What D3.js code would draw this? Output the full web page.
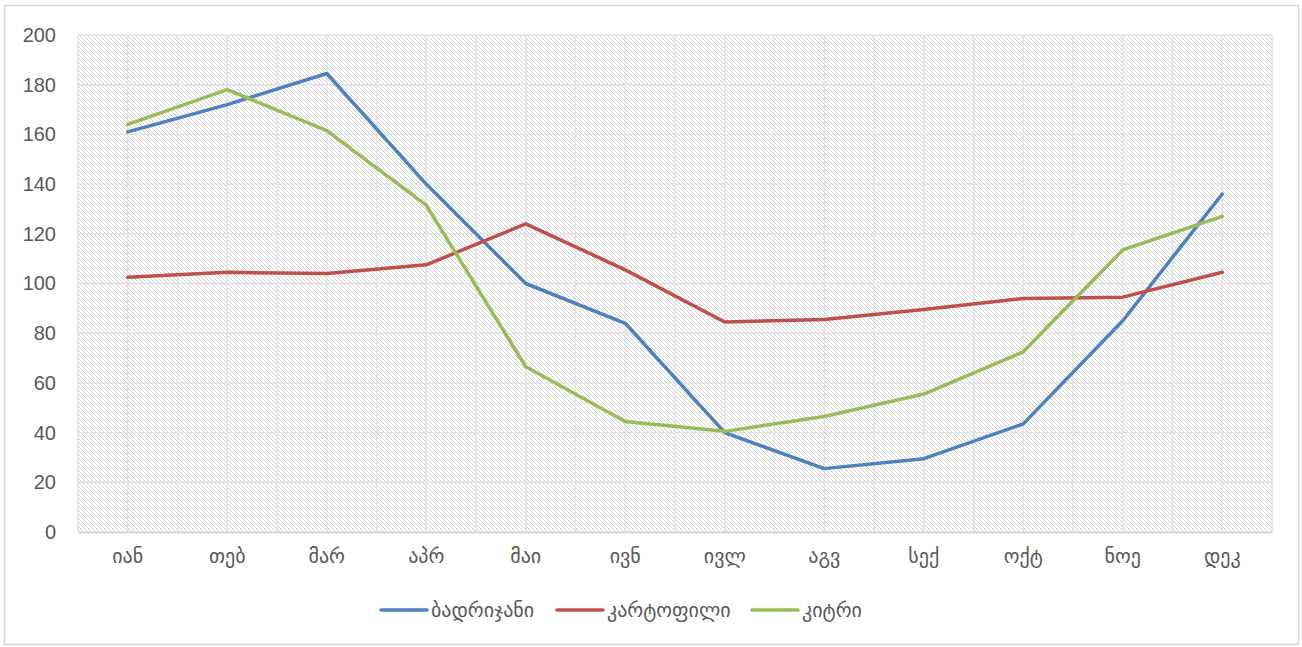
<!DOCTYPE html>
<html lang="ka">
<head>
  <meta charset="UTF-8">
  <title>ბოსტნეული</title>
  <script src="https://d3js.org/d3.v7.min.js"></script>
  <style>
    body { margin: 0; background: #fff; }
    svg { display: block; }
    text { fill: #595959; }
  </style>
</head>
<body>
<svg id="chart" width="1302" height="647"></svg>
<script>
  // data
  const months = ["იან", "თებ", "მარ", "აპრ", "მაი", "ივნ", "ივლ", "აგვ", "სექ", "ოქტ", "ნოე", "დეკ"];
  const seriesNames = ["ბადრიჯანი", "კარტოფილი", "კიტრი"];
  const seriesColors = ["#4f81bd", "#c0504d", "#9bbb59"];
  const badrijani = [161, 172, 184.5, 140, 100, 84, 40, 25.5, 29.5, 43.5, 85, 136];
  const kartopili = [102.5, 104.5, 104, 107.5, 124, 105.5, 84.5, 85.5, 89.5, 94, 94.5, 104.5];
  const kitri = [164, 178, 161.5, 131.5, 66.5, 44.5, 40.5, 46.5, 55.5, 72.5, 113.5, 127];
  const yTicks = [0, 20, 40, 60, 80, 100, 120, 140, 160, 180, 200];

  const allSeries = [badrijani, kartopili, kitri];

  const svg = d3.select("#chart");
  const margin = { top: 35, right: 30, bottom: 115, left: 78 };
  const width = 1302, height = 647;

  // outer frame
  svg.append("rect")
    .attr("x", 4.5).attr("y", 5.5)
    .attr("width", 1294).attr("height", 639)
    .attr("fill", "#fff")
    .attr("stroke", "#d9d9d9")
    .attr("stroke-width", 1.5);

  // hatch pattern for the plot area
  const defs = svg.append("defs");
  const pat = defs.append("pattern")
    .attr("id", "hatch")
    .attr("patternUnits", "userSpaceOnUse")
    .attr("width", 4).attr("height", 4);
  pat.append("path")
    .attr("d", "M-1,-1 L5,5 M-1,3 L1,5 M3,-1 L5,1")
    .attr("stroke", "#d4d4d4")
    .attr("stroke-width", 1);

  const x = d3.scaleBand()
    .domain(months)
    .range([margin.left, width - margin.right]);

  const y = d3.scaleLinear()
    .domain([0, 200])
    .range([height - margin.bottom, margin.top]);

  svg.append("rect")
    .attr("x", margin.left).attr("y", margin.top)
    .attr("width", x.range()[1] - margin.left)
    .attr("height", y(0) - y(200))
    .attr("fill", "url(#hatch)");

  // gridlines: horizontal at each tick, vertical at band edges and centres
  const grid = svg.append("g").attr("stroke", "#e3e3e3").attr("stroke-width", 1.5);
  grid.selectAll(".h")
    .data(yTicks)
    .enter().append("line")
    .attr("x1", margin.left).attr("x2", x.range()[1])
    .attr("y1", d => y(d)).attr("y2", d => y(d));

  const vx = [];
  months.forEach(m => { vx.push(x(m)); vx.push(x(m) + x.bandwidth() / 2); });
  vx.push(x.range()[1]);
  grid.selectAll(".v")
    .data(vx)
    .enter().append("line")
    .attr("x1", d => d).attr("x2", d => d)
    .attr("y1", margin.top).attr("y2", y(0));

  // axes
  const yAxis = d3.axisLeft(y).tickValues(yTicks).tickSize(0).tickPadding(22);
  svg.append("g")
    .attr("transform", `translate(${margin.left},0)`)
    .call(yAxis)
    .call(g => g.select(".domain").remove())
    .selectAll("text")
    .attr("font-family", "'Liberation Sans Narrow', 'Liberation Sans', Arial, sans-serif")
    .attr("font-size", 20)
    .attr("fill", "#595959");

  const xAxis = d3.axisBottom(x).tickSize(0).tickPadding(17);
  svg.append("g")
    .attr("transform", `translate(0,${y(0)})`)
    .call(xAxis)
    .call(g => g.select(".domain").attr("stroke", "#d9d9d9").attr("stroke-width", 2))
    .selectAll("text")
    .attr("font-family", "'DejaVu Sans', sans-serif")
    .attr("font-size", 20)
    .attr("fill", "#595959");

  // lines
  const line = d3.line()
    .x((d, i) => x(months[i]) + x.bandwidth() / 2)
    .y(d => y(d));

  svg.selectAll(".series")
    .data(allSeries)
    .enter().append("path")
    .attr("d", line)
    .attr("fill", "none")
    .attr("stroke", (d, i) => seriesColors[i])
    .attr("stroke-width", 3.5)
    .attr("stroke-linejoin", "round")
    .attr("stroke-linecap", "round");

  // legend
  const legendX = [381, 557, 752];
  const legend = svg.append("g");
  seriesNames.forEach((name, i) => {
    const g = legend.append("g").attr("transform", `translate(${legendX[i]},610)`);
    g.append("line")
      .attr("x1", 0).attr("x2", 46)
      .attr("stroke", seriesColors[i])
      .attr("stroke-width", 3.5)
      .attr("stroke-linecap", "round");
    g.append("text")
      .attr("x", 50).attr("y", 7)
      .attr("font-family", "'DejaVu Sans', sans-serif")
      .attr("font-size", 20)
      .attr("fill", "#595959")
      .text(name);
  });
</script>
</body>
</html>
